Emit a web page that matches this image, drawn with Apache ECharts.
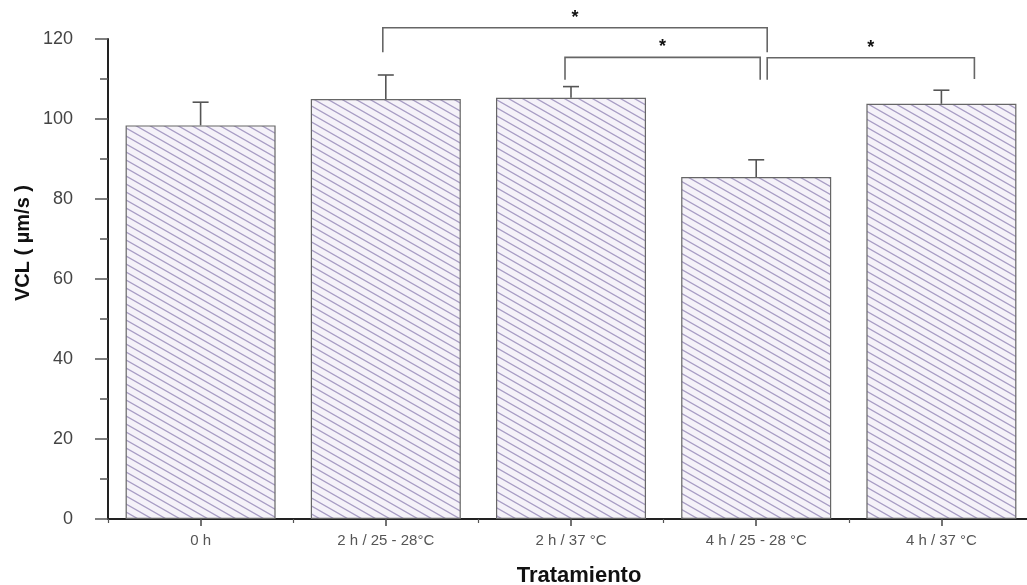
<!DOCTYPE html>
<html><head><meta charset="utf-8">
<script src="https://cdn.jsdelivr.net/npm/echarts@6/dist/echarts.min.js"></script>
<style>html,body{margin:0;padding:0;background:#fff}#c{width:1027px;height:585px}</style>
</head><body><div id="c"></div>
<script>
// ---- data ----
const categories = ['0 h', '2 h / 25 - 28°C', '2 h / 37 °C', '4 h / 25 - 28 °C', '4 h / 37 °C'];
const means = [98.4, 105.0, 105.3, 85.5, 103.8];
const errors = [5.8, 6.0, 2.8, 4.3, 3.4];
const yTickLabels = [0, 20, 40, 60, 80, 100, 120];
// significance brackets (category index from/to, level of bar, leg ends in axis units)
const bracketFrom = [1, 2, 3];
const bracketTo = [3, 3, 4];
const bracketLevel = [122.8, 115.4, 115.3];
const bracketLegLeft = [116.7, 109.8, 109.8];
const bracketLegRight = [116.7, 109.8, 110.0];
const bracketText = ['*', '*', '*'];

// ---- layout constants (pixel nudges of bracket ends) ----
const bracketNudge = [[-3, 11], [-6, 4], [11, 33]];

// hatch pattern
const tile = document.createElement('canvas');
tile.width = 14; tile.height = 8;
const g = tile.getContext('2d');
g.fillStyle = '#f5f2f9'; g.fillRect(0, 0, 14, 8);
g.strokeStyle = '#a89dc4'; g.lineWidth = 1.3;
g.beginPath();
[[0,0],[14,0],[-14,0],[0,8],[0,-8]].forEach(([dx,dy]) => {
  g.moveTo(-14 + dx, -8 + dy); g.lineTo(28 + dx, 16 + dy);
});
g.stroke();

const chart = echarts.init(document.getElementById('c'), null, {renderer: 'canvas'});
const FONT = 'Liberation Sans, Arial, sans-serif';

chart.setOption({
  animation: false,
  backgroundColor: '#fff',
  grid: {left: 108, right: -7, top: 39, bottom: 66, outerBoundsMode: 'none', containLabel: false},
  xAxis: [{
    type: 'category', data: categories,
    axisLine: {show: true, lineStyle: {color: '#222', width: 2}},
    axisTick: {show: true, alignWithLabel: true, length: 7, lineStyle: {color: '#444', width: 1.5}},
    axisLabel: {color: '#555', fontSize: 15, fontFamily: FONT, margin: 14, interval: 0},
    name: 'Tratamiento', nameLocation: 'middle', nameGap: 46,
    nameTextStyle: {fontSize: 22, fontWeight: 'bold', color: '#111', fontFamily: FONT, padding: [0, 0, 0, 16]},
    splitLine: {show: false}
  }, {
    type: 'category', data: categories, position: 'bottom',
    axisLine: {show: false},
    axisTick: {show: true, length: 4, lineStyle: {color: '#555', width: 1.2}},
    axisLabel: {show: false}, splitLine: {show: false}
  }],
  yAxis: {
    type: 'value', min: 0, max: 120, interval: 20,
    axisLine: {show: true, lineStyle: {color: '#222', width: 2}},
    axisTick: {show: true, length: 13, lineStyle: {color: '#555', width: 1.5}},
    minorTick: {show: true, splitNumber: 2, length: 8, lineStyle: {color: '#555', width: 1.5}},
    axisLabel: {color: '#444', fontSize: 18, fontFamily: FONT, margin: 35,
      formatter: v => yTickLabels.indexOf(v) >= 0 ? String(v) : ''},
    splitLine: {show: false}
  },
  graphic: [{
    type: 'text', x: 23, y: 243, rotation: Math.PI / 2,
    style: {text: 'VCL ( µm/s )', font: 'bold 20px ' + FONT, fill: '#111', align: 'center', verticalAlign: 'middle'}
  }],
  series: [{
    type: 'bar', data: means, barCategoryGap: '19%', xAxisIndex: 0,
    itemStyle: {color: {image: tile, repeat: 'repeat'}, borderColor: '#666', borderWidth: 1.2},
    z: 2
  }, {
    type: 'custom', xAxisIndex: 0, z: 3,
    data: categories.map((c, i) => [i, means[i], errors[i]]),
    renderItem: (params, api) => {
      const x = api.value(0), m = api.value(1), e = api.value(2);
      const p0 = api.coord([x, m]);
      const p1 = api.coord([x, m + e]);
      const st = {stroke: '#555', lineWidth: 1.6};
      return {type: 'group', children: [
        {type: 'line', shape: {x1: p0[0], y1: p0[1], x2: p1[0], y2: p1[1]}, style: st},
        {type: 'line', shape: {x1: p1[0] - 8, y1: p1[1], x2: p1[0] + 8, y2: p1[1]}, style: st}
      ]};
    }
  }, {
    type: 'custom', xAxisIndex: 0, z: 4, clip: false,
    data: bracketFrom.map((f, i) => [f, bracketTo[i], bracketLevel[i], bracketLegLeft[i], bracketLegRight[i], i]),
    renderItem: (params, api) => {
      const i = api.value(5);
      const a = api.coord([api.value(0), api.value(2)]);
      const b = api.coord([api.value(1), api.value(2)]);
      const x1 = a[0] + bracketNudge[i][0], x2 = b[0] + bracketNudge[i][1];
      const yl = a[1];
      const yL = api.coord([api.value(0), api.value(3)])[1];
      const yR = api.coord([api.value(1), api.value(4)])[1];
      return {type: 'group', children: [
        {type: 'polyline', shape: {points: [[x1, yL], [x1, yl], [x2, yl], [x2, yR]]},
          style: {stroke: '#666', lineWidth: 1.6, fill: null}},
        {type: 'text', style: {text: bracketText[i], x: (x1 + x2) / 2, y: yl - 1,
          align: 'center', verticalAlign: 'bottom', font: 'bold 18px ' + FONT, fill: '#111'}}
      ]};
    }
  }]
});
</script></body></html>
